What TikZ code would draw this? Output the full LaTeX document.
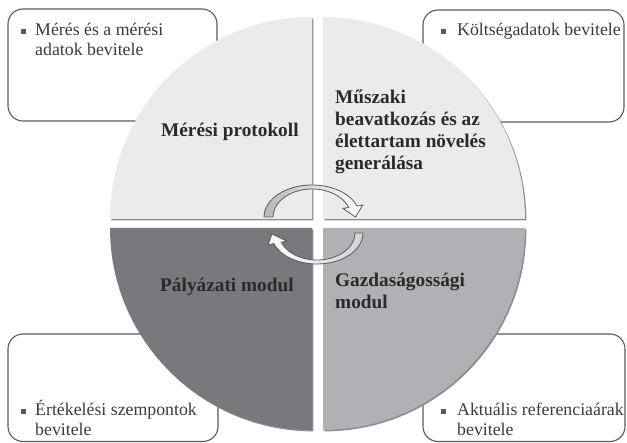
\documentclass[tikz,border=0pt]{standalone}
\usepackage{fontspec}
\setmainfont{Liberation Serif}
\definecolor{qlight}{HTML}{EBEBEC}
\definecolor{qdark}{HTML}{78797D}
\definecolor{qmid}{HTML}{B0B1B4}
\definecolor{bordc}{HTML}{5A5A5A}
\definecolor{txtc}{HTML}{3C3C3C}
\definecolor{ttlc}{HTML}{2A2A2A}
\definecolor{shadc}{HTML}{8E8E90}
\begin{document}
\begin{tikzpicture}[x=1pt,y=1pt,
  infobox/.style={draw=bordc, line width=1.1pt, fill=white, rounded corners=15pt},
  bul/.style={rectangle, fill=bordc, minimum size=5pt, inner sep=0pt},
  boxtext/.style={anchor=base west, inner sep=0pt, text=txtc, font=\fontsize{17.8}{19.5}\selectfont},
  title/.style={anchor=base west, inner sep=0pt, text=ttlc, font=\fontsize{19.3}{22}\selectfont\bfseries},
  arr/.style={draw=bordc, line width=0.8pt}
]
\useasboundingbox (0,0) rectangle (627,443);
% info boxes
\draw[infobox] (8,322) rectangle (217,434);
\draw[infobox] (423,321) rectangle (624,433);
\draw[infobox] (8,1.5) rectangle (218,109);
\draw[infobox] (423,1.5) rectangle (625,109);
% quadrant shadows
\begin{scope}[shift={(1.4,-1.4)}]
\fill[shadc] (312,224) -- (110,224) arc[start angle=180,end angle=90,radius=202] -- cycle;
\fill[shadc] (323,224) -- (323,426) arc[start angle=90,end angle=0,radius=202] -- cycle;
\fill[shadc] (312,215) -- (312,13) arc[start angle=270,end angle=180,radius=202] -- cycle;
\fill[shadc] (323,215) -- (525,215) arc[start angle=0,end angle=-90,radius=202] -- cycle;
\end{scope}
% quadrants
\fill[qlight] (312,224) -- (110,224) arc[start angle=180,end angle=90,radius=202] -- cycle;
\fill[qlight] (323,224) -- (323,426) arc[start angle=90,end angle=0,radius=202] -- cycle;
\fill[qdark] (312,215) -- (312,13) arc[start angle=270,end angle=180,radius=202] -- cycle;
\fill[qmid] (323,215) -- (525,215) arc[start angle=0,end angle=-90,radius=202] -- cycle;
% circular arrows
\path[arr, left color=gray!55, right color=white]
  (264,226) arc[start angle=180,end angle=20,x radius=48,y radius=32]
  -- ({312+54*cos(20)},{226+35*sin(20)})
  -- (355.5,226)
  -- ({312+33*cos(20)},{226+25*sin(20)})
  -- ({312+39*cos(20)},{226+28*sin(20)})
  arc[start angle=20,end angle=180,x radius=39,y radius=28]
  -- cycle;
\path[arr, left color=white, right color=gray!35]
  (363,210) arc[start angle=0,end angle=-160,x radius=46,y radius=31]
  -- ({317+52*cos(-160)},{210+34*sin(-160)})
  -- (272,209)
  -- ({317+32*cos(-160)},{210+24*sin(-160)})
  -- ({317+38*cos(-160)},{210+27*sin(-160)})
  arc[start angle=-160,end angle=0,x radius=38,y radius=27]
  -- cycle;
% box texts
\node[bul] (b1) at (23,411) {};
\node[boxtext] (t1) at (35,407) {\begin{tabular}[t]{@{}l@{}}Mérés és a mérési\\adatok bevitele\end{tabular}};
\node[bul] (b2) at (443,411) {};
\node[boxtext] (t2) at (457,407) {Költségadatok bevitele};
\node[bul] (b3) at (23,31) {};
\node[boxtext] (t3) at (35,27) {\begin{tabular}[t]{@{}l@{}}Értékelési szempontok\\bevitele\end{tabular}};
\node[bul] (b4) at (443,31) {};
\node[boxtext] (t4) at (457,27) {\begin{tabular}[t]{@{}l@{}}Aktuális referenciaárak\\bevitele\end{tabular}};
% quadrant titles
\node[title] (q1) at (161,306) {Mérési protokoll};
\node[title] (q2) at (335,339) {\begin{tabular}[t]{@{}l@{}}Műszaki\\beavatkozás és az\\élettartam növelés\\generálása\end{tabular}};
\node[title] (q3) at (160,151) {Pályázati modul};
\node[title] (q4) at (335,156) {\begin{tabular}[t]{@{}l@{}}Gazdaságossági\\modul\end{tabular}};
\end{tikzpicture}
\end{document}
